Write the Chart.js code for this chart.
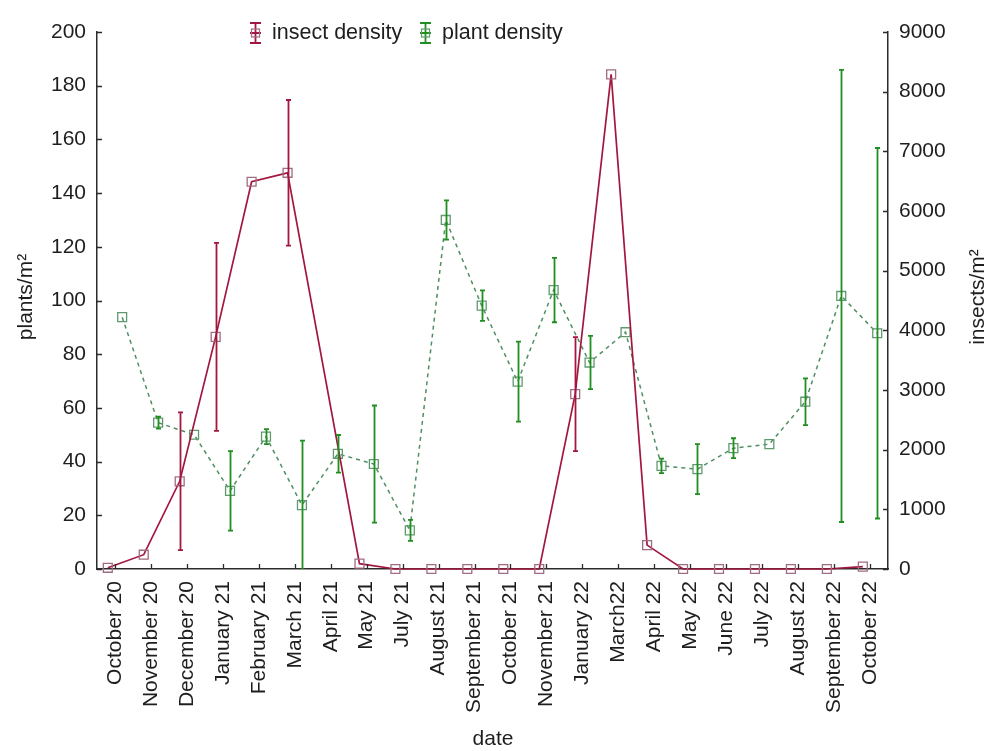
<!DOCTYPE html>
<html>
<head>
<meta charset="utf-8">
<title>Insect and plant density</title>
<script src="https://cdn.jsdelivr.net/npm/chart.js@4.4.1/dist/chart.umd.min.js"></script>
<style>
  html, body { margin: 0; padding: 0; background: #ffffff; }
  #wrap { width: 989px; height: 751px; position: relative; }
</style>
</head>
<body>
<div id="wrap"><canvas id="chart" width="989" height="751"></canvas></div>
<script>
// Sampling dates (x categories)
const dates = [
  'October 20', 'November 20', 'December 20', 'January 21', 'February 21', 'March 21',
  'April 21', 'May 21', 'July 21', 'August 21', 'September 21', 'October 21',
  'November 21', 'January 22', 'March22', 'April 22', 'May 22', 'June 22',
  'July 22', 'August 22', 'September 22', 'October 22'
];

// Insect density, insects/m² (right axis); null = not sampled
const insectDensity = [
  20, 240, 1470, 3890, 6490, 6640,
  null, 90, 0, 0, 0, 0,
  0, 2930, 8290, 400, 0, 0,
  0, 0, 0, 40
];
const insectError = [
  null, null, 1155, 1575, null, 1220,
  null, null, null, null, null, null,
  null, 955, null, null, null, null,
  null, null, null, null
];

// Plant density, plants/m² (left axis)
const plantDensity = [
  93.8, 54.5, 50.0, 29.1, 49.3, 23.8,
  42.9, 39.1, 14.4, 130.0, 98.1, 69.8,
  103.9, 76.9, 88.2, 38.4, 37.2, 45.0,
  46.5, 62.3, 101.7, 87.8
];
const plantError = [
  null, 2.2, null, 14.8, 2.8, 24.0,
  7.0, 21.8, 3.9, 7.3, 5.7, 14.9,
  12.0, 9.9, null, 2.7, 9.3, 3.7,
  null, 8.7, 84.2, 69.0
];

// Axis ranges
const plantAxis = { min: 0, max: 200, step: 20 };
const insectAxis = { min: 0, max: 9000, step: 1000 };

const FONT = "'Liberation Sans', Arial, sans-serif";
const TEXT = '#1e1e1e';
const AXIS = '#2b2b2b';
const INSECT = '#a3173f';
const INSECT_MARK = '#a06c84';
const PLANT = '#1f8f1f';
const PLANT_LINE = '#4e8f62';
const PLANT_MARK = '#5f9a6e';

// Within each date the two series sit side by side
const SHIFT = 0.2;
const insectPoints = insectDensity.map((v, i) => ({ x: i - SHIFT, y: v }));
const plantPoints = plantDensity.map((v, i) => ({ x: i + SHIFT, y: v }));

// Vertical error bars with small caps
const errorBars = {
  id: 'errorBars',
  afterDatasetsDraw(chart) {
    const { ctx, chartArea: a } = chart;
    chart.data.datasets.forEach(ds => {
      const errs = ds.errors;
      if (!errs) return;
      const xs = chart.scales.x;
      const ys = chart.scales[ds.yAxisID];
      ctx.save();
      ctx.beginPath();
      ctx.rect(a.left, a.top - 2, a.right - a.left, a.bottom - a.top + 2);
      ctx.clip();
      ctx.strokeStyle = ds.errorColor;
      ctx.lineWidth = 1.8;
      ds.data.forEach((p, i) => {
        const e = errs[i];
        if (p.y == null || !e) return;
        const x = Math.round(xs.getPixelForValue(p.x)) + 0.5;
        const top = ys.getPixelForValue(p.y + e);
        const bot = ys.getPixelForValue(p.y - e);
        ctx.beginPath();
        ctx.moveTo(x, top); ctx.lineTo(x, bot);
        ctx.moveTo(x - 2.5, top); ctx.lineTo(x + 2.5, top);
        ctx.moveTo(x - 2.5, bot); ctx.lineTo(x + 2.5, bot);
        ctx.stroke();
      });
      ctx.restore();
    });
  }
};

// Inward tick marks, axis titles and the legend
const decorations = {
  id: 'decorations',
  afterDraw(chart) {
    const { ctx, chartArea: a, scales } = chart;
    ctx.save();
    ctx.strokeStyle = AXIS;
    ctx.lineWidth = 1.3;
    ctx.beginPath();
    scales.x.ticks.forEach(t => {
      const px = Math.round(scales.x.getPixelForValue(t.value)) + 0.5;
      ctx.moveTo(px, a.bottom); ctx.lineTo(px, a.bottom - 5);
    });
    scales.y.ticks.forEach(t => {
      const py = Math.round(scales.y.getPixelForValue(t.value)) + 0.5;
      ctx.moveTo(a.left, py); ctx.lineTo(a.left + 5, py);
    });
    scales.y1.ticks.forEach(t => {
      const py = Math.round(scales.y1.getPixelForValue(t.value)) + 0.5;
      ctx.moveTo(a.right, py); ctx.lineTo(a.right - 5, py);
    });
    ctx.stroke();

    // Axis titles
    ctx.fillStyle = TEXT;
    ctx.font = '21px ' + FONT;
    ctx.textAlign = 'center';
    ctx.textBaseline = 'middle';
    ctx.fillText('date', 493, 739);
    [['plants/m²', 26, 297], ['insects/m²', 978, 297]].forEach(([txt, x, y]) => {
      ctx.save();
      ctx.translate(x, y);
      ctx.rotate(-Math.PI / 2);
      ctx.fillText(txt, 0, 0);
      ctx.restore();
    });

    // Legend
    const items = [
      { label: chart.data.datasets[0].label, color: INSECT, mark: INSECT_MARK, x: 255 },
      { label: chart.data.datasets[1].label, color: PLANT, mark: PLANT_MARK, x: 425 }
    ];
    const ly = 33;
    items.forEach(it => {
      ctx.strokeStyle = it.color;
      ctx.lineWidth = 1.8;
      ctx.beginPath();
      ctx.moveTo(it.x + 0.5, ly - 10); ctx.lineTo(it.x + 0.5, ly + 10);
      ctx.moveTo(it.x - 5, ly - 10); ctx.lineTo(it.x + 6, ly - 10);
      ctx.moveTo(it.x - 5, ly + 10); ctx.lineTo(it.x + 6, ly + 10);
      ctx.moveTo(it.x - 5, ly); ctx.lineTo(it.x + 6, ly);
      ctx.stroke();
      ctx.strokeStyle = it.mark;
      ctx.lineWidth = 1.2;
      ctx.strokeRect(it.x - 3.5, ly - 4, 8, 8);
      ctx.fillStyle = TEXT;
      ctx.font = '21.5px ' + FONT;
      ctx.textAlign = 'left';
      ctx.textBaseline = 'middle';
      ctx.fillText(it.label, it.x + 17, ly);
    });
    ctx.restore();
  }
};

new Chart(document.getElementById('chart'), {
  type: 'line',
  data: {
    datasets: [
      {
        label: 'insect density',
        data: insectPoints,
        errors: insectError,
        errorColor: INSECT,
        yAxisID: 'y1',
        borderColor: INSECT,
        borderWidth: 1.7,
        pointStyle: 'rect',
        pointRadius: 6.3,
        pointBorderWidth: 1.3,
        pointBorderColor: INSECT_MARK,
        pointBackgroundColor: 'rgba(0,0,0,0)',
        spanGaps: true,
        tension: 0,
        clip: 8
      },
      {
        label: 'plant density',
        data: plantPoints,
        errors: plantError,
        errorColor: PLANT,
        yAxisID: 'y',
        borderColor: PLANT_LINE,
        borderWidth: 1.5,
        borderDash: [4, 4],
        pointStyle: 'rect',
        pointRadius: 6.3,
        pointBorderWidth: 1.3,
        pointBorderColor: PLANT_MARK,
        pointBackgroundColor: 'rgba(0,0,0,0)',
        spanGaps: true,
        tension: 0,
        clip: 8
      }
    ]
  },
  options: {
    responsive: false,
    animation: false,
    devicePixelRatio: 1,
    layout: { padding: { top: 32, right: 0, bottom: 0, left: 0 } },
    plugins: { legend: { display: false }, tooltip: { enabled: false } },
    scales: {
      x: {
        type: 'linear',
        min: -0.5,
        max: dates.length - 0.5,
        // one tick per sampling date
        afterBuildTicks(s) { s.ticks = dates.map((_, i) => ({ value: i })); },
        afterFit(s) { s.height = 182; },
        grid: { display: false, drawTicks: false },
        border: { display: true, color: AXIS, width: 1.5 },
        ticks: {
          autoSkip: false,
          minRotation: 90,
          maxRotation: 90,
          padding: 12,
          color: TEXT,
          font: { family: FONT, size: 21 },
          callback: v => dates[Math.round(v)]
        }
      },
      y: {
        position: 'left',
        min: plantAxis.min,
        max: plantAxis.max,
        afterFit(s) { s.width = 97; },
        grid: { display: false, drawTicks: false },
        border: { display: true, color: AXIS, width: 1.5 },
        ticks: { stepSize: plantAxis.step, padding: 11, color: TEXT, font: { family: FONT, size: 21 }, callback: v => String(v) }
      },
      y1: {
        position: 'right',
        min: insectAxis.min,
        max: insectAxis.max,
        afterFit(s) { s.width = 101; },
        grid: { display: false, drawTicks: false },
        border: { display: true, color: AXIS, width: 1.5 },
        ticks: { stepSize: insectAxis.step, padding: 11, color: TEXT, font: { family: FONT, size: 21 }, callback: v => String(v) }
      }
    }
  },
  plugins: [errorBars, decorations]
});
</script>
</body>
</html>
